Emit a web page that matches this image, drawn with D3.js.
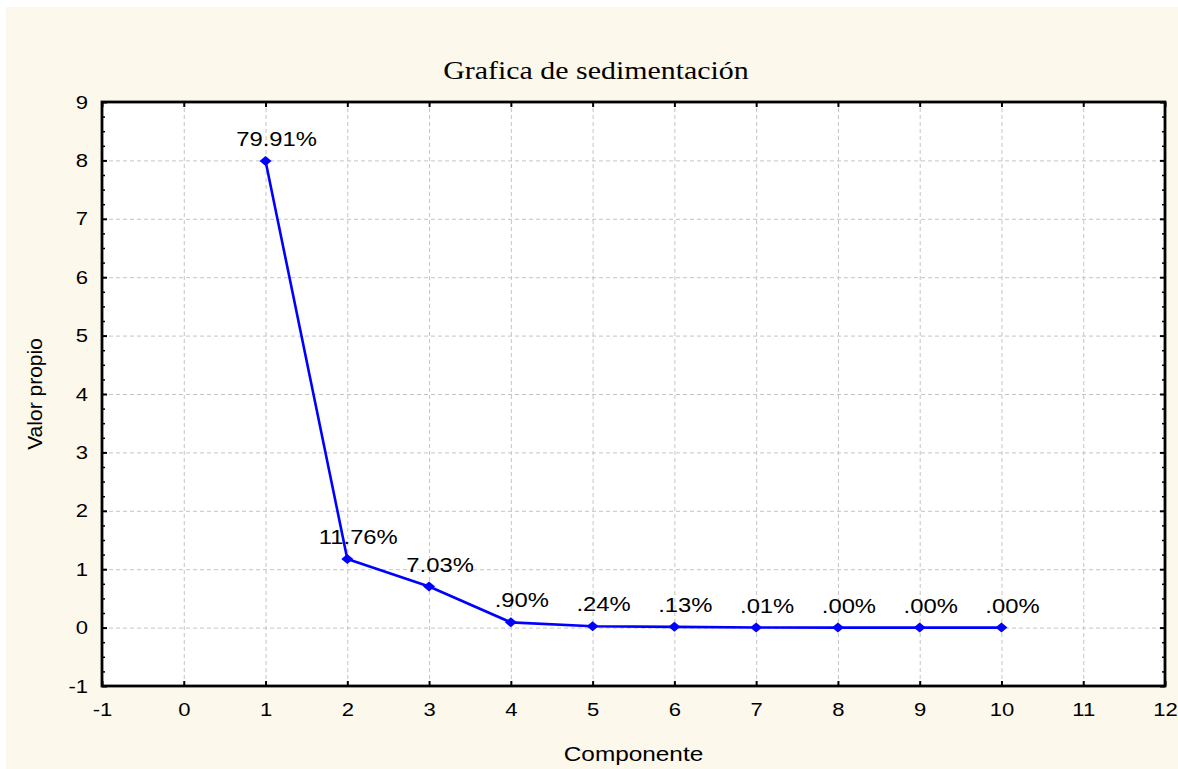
<!DOCTYPE html>
<html>
<head>
<meta charset="utf-8">
<script src="https://cdn.jsdelivr.net/npm/d3@7"></script>
<style>
  body { margin: 0; background: #ffffff; }
  svg text { font-family: "Liberation Sans", Arial, sans-serif; fill: #000; }
</style>
</head>
<body>
<svg id="chart" width="1178" height="769"></svg>
<script>
// Scree plot: eigenvalue of each principal component, labelled with % of variance
const components = [1, 2, 3, 4, 5, 6, 7, 8, 9, 10];
const variancePct = [79.91, 11.76, 7.03, 0.90, 0.24, 0.13, 0.01, 0.00, 0.00, 0.00];
const nVariables = 10;
const eigenvalues = variancePct.map(p => p * nVariables / 100);

const xTicks = d3.range(-1, 13);          // -1 .. 12
const yTicks = d3.range(-1, 10);          // -1 .. 9
const xGrid = d3.range(0, 12);            // 0 .. 11
const yGrid = d3.range(0, 9);             // 0 .. 8
const yMinor = d3.range(-1, 9.001, 0.25).filter(v => Math.abs(v - Math.round(v)) > 1e-6);

const titleText = "Grafica de sedimentación";
const xTitle = "Componente";
const yTitle = "Valor propio";

const W = 1178, H = 769;
const plot = { left: 102, right: 1165, top: 102, bottom: 686 };
const SX = 1.16;   // horizontal widening of the label glyphs

const svg = d3.select("#chart");

// page background
svg.append("rect").attr("x", 6).attr("y", 7).attr("width", W - 6).attr("height", H - 7)
  .attr("fill", "#fdf8ec");

const x = d3.scaleLinear().domain([-1, 12]).range([plot.left, plot.right]);
const y = d3.scaleLinear().domain([-1, 9]).range([plot.bottom, plot.top]);
const pw = plot.right - plot.left, ph = plot.bottom - plot.top;

// plot area
svg.append("rect").attr("x", plot.left).attr("y", plot.top)
  .attr("width", pw).attr("height", ph).attr("fill", "#ffffff");

function widen(sel, k) {
  sel.each(function () {
    const L = this.getComputedTextLength();
    this.setAttribute("textLength", L * k);
    this.setAttribute("lengthAdjust", "spacingAndGlyphs");
  });
}

// dashed grid
const gridStyle = g => {
  g.select(".domain").remove();
  g.selectAll(".tick line").attr("stroke", "#c4c4c4").attr("stroke-width", 1)
    .attr("stroke-dasharray", "4,3");
};
svg.append("g").attr("transform", `translate(0,${plot.bottom})`)
  .call(d3.axisBottom(x).tickValues(xGrid).tickSize(-ph).tickFormat(""))
  .call(gridStyle);
svg.append("g").attr("transform", `translate(${plot.left},0)`)
  .call(d3.axisLeft(y).tickValues(yGrid).tickSize(-pw).tickFormat(""))
  .call(gridStyle);

// axes with inward ticks
const axisStyle = (g, w) => {
  g.select(".domain").remove();
  g.selectAll(".tick line").attr("stroke", "#000").attr("stroke-width", w);
};
const plain = d => String(d);
const gx = svg.append("g").attr("transform", `translate(0,${plot.bottom})`)
  .call(d3.axisBottom(x).tickValues(xTicks).tickSize(-5).tickPadding(17).tickFormat(plain))
  .call(g => axisStyle(g, 2));
const gy = svg.append("g").attr("transform", `translate(${plot.left},0)`)
  .call(d3.axisLeft(y).tickValues(yTicks).tickSize(-5).tickPadding(14).tickFormat(plain))
  .call(g => axisStyle(g, 2));
svg.append("g").attr("transform", `translate(0,${plot.top})`)
  .call(d3.axisTop(x).tickValues(xTicks).tickSize(-5).tickFormat(""))
  .call(g => axisStyle(g, 2));
svg.append("g").attr("transform", `translate(${plot.right},0)`)
  .call(d3.axisRight(y).tickValues(yTicks).tickSize(-5).tickFormat(""))
  .call(g => axisStyle(g, 2));
// minor ticks on the vertical axes
svg.append("g").attr("transform", `translate(${plot.left},0)`)
  .call(d3.axisLeft(y).tickValues(yMinor).tickSize(-3).tickFormat(""))
  .call(g => axisStyle(g, 1.5));
svg.append("g").attr("transform", `translate(${plot.right},0)`)
  .call(d3.axisRight(y).tickValues(yMinor).tickSize(-3).tickFormat(""))
  .call(g => axisStyle(g, 1.5));

[gx, gy].forEach(g => g.selectAll(".tick text")
  .attr("font-size", 19).attr("font-family", "Liberation Sans, Arial, sans-serif").attr("fill", "#000"));
widen(gx.selectAll(".tick text"), SX);
widen(gy.selectAll(".tick text"), SX);

// frame
svg.append("rect").attr("x", plot.left).attr("y", plot.top)
  .attr("width", pw).attr("height", ph)
  .attr("fill", "none").attr("stroke", "#000").attr("stroke-width", 2.8);

// eigenvalue line
const data = components.map((c, i) => ({ c, v: eigenvalues[i], p: variancePct[i] }));
svg.append("path").datum(data)
  .attr("d", d3.line().x(d => x(d.c)).y(d => y(d.v)))
  .attr("fill", "none").attr("stroke", "#0000ff").attr("stroke-width", 2.6);

svg.append("g").selectAll("path").data(data).join("path")
  .attr("transform", d => `translate(${x(d.c)},${y(d.v)})`)
  .attr("d", "M0,-5L6,0L0,5L-6,0Z")
  .attr("fill", "#0000ff");

// variance labels
const fmtPct = v => d3.format(".2f")(v).replace(/^0\./, ".") + "%";
const labels = svg.append("g").selectAll("text").data(data).join("text")
  .attr("x", d => x(d.c) + 11)
  .attr("y", d => y(d.v) - 15)
  .attr("text-anchor", "middle")
  .attr("font-size", 20)
  .text(d => fmtPct(d.p));
widen(labels, 1.19);

// titles
const t = svg.append("text").attr("x", 596).attr("y", 79).attr("text-anchor", "middle")
  .style("font-family", "'Liberation Serif', 'Times New Roman', serif")
  .attr("font-size", 26)
  .text(titleText);
widen(t, 1.15);

const xt = svg.append("text").attr("x", (plot.left + plot.right) / 2).attr("y", 761)
  .attr("text-anchor", "middle").attr("font-size", 21).text(xTitle);
widen(xt, SX);

svg.append("text")
  .attr("transform", `translate(42,${(plot.top + plot.bottom) / 2}) rotate(-90)`)
  .attr("text-anchor", "middle").attr("font-size", 21).text(yTitle);
</script>
</body>
</html>
